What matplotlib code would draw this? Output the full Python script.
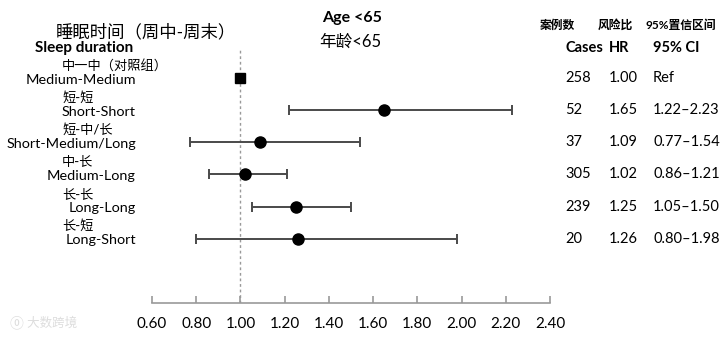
import matplotlib
matplotlib.use("Agg")
import matplotlib.pyplot as plt
from matplotlib.transforms import blended_transform_factory

plt.rcParams['font.family'] = ['Lato', 'Noto Sans CJK SC', 'DejaVu Sans']

labels_en = ["Medium-Medium", "Short-Short", "Short-Medium/Long", "Medium-Long", "Long-Long", "Long-Short"]
labels_zh = ["中一中（对照组）", "短-短", "短-中/长", "中-长", "长-长", "长-短"]
hr = [1.00, 1.65, 1.09, 1.02, 1.25, 1.26]
lo = [1.00, 1.22, 0.77, 0.86, 1.05, 0.80]
hi = [1.00, 2.23, 1.54, 1.21, 1.50, 1.98]
cases = ["258", "52", "37", "305", "239", "20"]
hr_txt = ["1.00", "1.65", "1.09", "1.02", "1.25", "1.26"]
ci_txt = ["Ref", "1.22–2.23", "0.77–1.54", "0.86–1.21", "1.05–1.50", "0.80–1.98"]
xticks = [0.6, 0.8, 1.0, 1.2, 1.4, 1.6, 1.8, 2.0, 2.2, 2.4]

W, H = 720, 343
fig = plt.figure(figsize=(W/100, H/100), dpi=100)
ax = fig.add_axes([152/W, 1-303/H, 398/W, (303-48)/H])
ax.set_xlim(0.6, 2.4)
ax.set_ylim(7.0, -0.93)

ax.axvline(1.0, color='#999999', ls=(0, (2, 2)), lw=1.0, zorder=0)
for i in range(len(hr)):
    if i == 0:
        ax.plot(hr[i], i, marker='s', ms=7.5, color='black', ls='none')
    else:
        ax.errorbar(hr[i], i, xerr=[[hr[i]-lo[i]], [hi[i]-hr[i]]], fmt='o', ms=8,
                    color='black', ecolor='#4a4a4a', elinewidth=1.4, capsize=3.5, capthick=1.4)

for s in ['top', 'right', 'left']:
    ax.spines[s].set_visible(False)
ax.spines['bottom'].set_color('#999999')
ax.spines['bottom'].set_linewidth(1.2)
ax.set_yticks([])
ax.set_xticks(xticks)
ax.set_xticklabels([f"{t:.2f}" for t in xticks], fontsize=11, color='black')
ax.tick_params(axis='x', direction='in', length=5, color='#999999', width=1.2, pad=10)

tr = blended_transform_factory(fig.transFigure, ax.transData)
for i in range(len(hr)):
    ax.text(136/W, i + 0.05, labels_en[i], transform=tr, ha='right', va='center', fontsize=10.4)
    ax.text(62/W, i - 0.40, labels_zh[i], transform=tr, ha='left', va='center', fontsize=9.5,
            fontweight='medium')
    ax.text(565/W, i, cases[i], transform=tr, ha='left', va='center', fontsize=10.5)
    ax.text(609/W, i, hr_txt[i], transform=tr, ha='left', va='center', fontsize=10.5)
    ax.text(653/W, i, ci_txt[i], transform=tr, ha='left', va='center', fontsize=10.5)

fig.text(146/W, 1-32/H, "睡眠时间（周中-周末）", ha='center', va='center', fontsize=12.5)
fig.text(35/W, 1-48/H, "Sleep duration", ha='left', va='center', fontsize=11, fontweight='bold')
fig.text(352/W, 1-18/H, "Age <65", ha='center', va='center', fontsize=11.5, fontweight='bold')
fig.text(350/W, 1-42/H, "年龄<65", ha='center', va='center', fontsize=12)
fig.text(540/W, 1-25/H, "案例数", ha='left', va='center', fontsize=8.5, fontweight='bold')
fig.text(598/W, 1-25/H, "风险比", ha='left', va='center', fontsize=8.5, fontweight='bold')
fig.text(645/W, 1-25/H, "95%置信区间", ha='left', va='center', fontsize=8.5, fontweight='bold')
fig.text(565/W, 1-48/H, "Cases", ha='left', va='center', fontsize=10.5, fontweight='bold')
fig.text(609/W, 1-48/H, "HR", ha='left', va='center', fontsize=10.5, fontweight='bold')
fig.text(653/W, 1-48/H, "95% CI", ha='left', va='center', fontsize=10.5, fontweight='bold')
fig.text(10/W, 1-322/H, "⓪ 大数跨境", ha='left', va='center', fontsize=9, color='#dddddd')

fig.savefig("out.png", dpi=100)
